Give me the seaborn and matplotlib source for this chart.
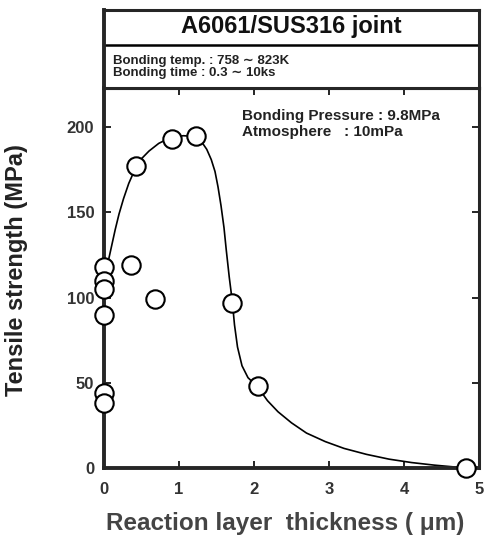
import pandas as pd
import numpy as np
import seaborn as sns
import matplotlib.pyplot as plt

sns.set_style("ticks")
plt.rcParams['font.family'] = ['Liberation Sans', 'DejaVu Sans']

# datos medidos (espesor de capa de reacción, resistencia)
espesor = [0.0, 0.0, 0.0, 0.0, 0.0, 0.0, 0.36, 0.43, 0.68, 0.90, 1.22, 1.71, 2.05, 4.82]
resistencia = [118, 110, 105, 90, 44, 38, 119, 177, 99, 193, 195, 97, 48, 0]

# curva dibujada a mano, leída punto por punto
curva_x = [0.03, 0.06, 0.10, 0.15, 0.20, 0.26, 0.33, 0.42, 0.50, 0.60, 0.73, 0.89,
           1.06, 1.22, 1.30, 1.37, 1.43, 1.48, 1.52, 1.56, 1.60, 1.63, 1.67, 1.71,
           1.74, 1.78, 1.84, 1.92, 2.05, 2.18, 2.32, 2.50, 2.70, 2.95, 3.20, 3.50,
           3.80, 4.10, 4.40, 4.65, 4.82]
curva_y = [118, 122, 130, 140, 149, 158, 167, 176, 181.5, 186, 190.5, 194,
           195, 194.5, 191.5, 187, 181, 174, 165, 154, 141, 128, 112, 98,
           84, 71, 60, 53, 47.5, 39.5, 33, 26.5, 20.5, 15.5, 11.5, 8,
           5.2, 3.2, 1.7, 0.7, 0]

xticks = [0, 1, 2, 3, 4, 5]
yticks = [0, 50, 100, 150, 200]

df_pts = pd.DataFrame({'x': espesor, 'y': resistencia})
df_cur = pd.DataFrame({'x': curva_x, 'y': curva_y})

W, H = 484, 539
fig = plt.figure(figsize=(W / 100, H / 100), dpi=100)
ax = fig.add_axes([104 / W, (H - 468) / H, 375 / W, 380 / H])

sns.lineplot(data=df_cur, x='x', y='y', ax=ax, color='black', lw=1.2,
             sort=False, estimator=None)
sns.scatterplot(data=df_pts, x='x', y='y', ax=ax, s=175, facecolor='white',
                edgecolor='black', linewidth=1.5, zorder=5, clip_on=False)

ax.set_xlim(0, 5)
ax.set_ylim(0, 223)
ax.set_xticks(xticks)
ax.set_yticks(yticks)
ax.tick_params(direction='in', length=5, width=1.2, top=True, right=True,
               labelsize=12, colors='black', labelcolor='#333333')
ax.tick_params(axis='x', pad=10)
ax.tick_params(axis='y', pad=7)
for lbl in ax.get_xticklabels() + ax.get_yticklabels():
    lbl.set_fontweight('bold')
for lado in ['left', 'bottom']:
    ax.spines[lado].set_linewidth(2.8)
for lado in ['right', 'top']:
    ax.spines[lado].set_linewidth(2.2)

ax.set_xlabel('Reaction layer  thickness ( μm)', fontsize=17.5, fontweight='bold',
              color='#444444')
ax.xaxis.set_label_coords(0.483, -0.115)
ax.set_ylabel('Tensile strength (MPa)', fontsize=17, fontweight='bold',
              color='#222222')
ax.yaxis.set_label_coords(-0.203, 0.52)

ax.text(0.368, 0.905, 'Bonding Pressure : 9.8MPa\nAtmosphere   : 10mPa',
        transform=ax.transAxes, fontsize=11, fontweight='bold', va='center',
        ha='left', linespacing=1.15, color='#222222')

# cabecera con título y condiciones
cab = fig.add_axes([104 / W, (H - 88) / H, 375 / W, 78 / H])
cab.set_xticks([])
cab.set_yticks([])
for lado in cab.spines.values():
    lado.set_linewidth(2.2)
cab.spines['left'].set_linewidth(2.8)
cab.axhline(1 - 35 / 78, color='black', lw=1.8)
cab.text(0.5, 1 - 17 / 78, 'A6061/SUS316 joint', transform=cab.transAxes,
         fontsize=17, fontweight='bold', ha='center', va='center', color='#111111')
cab.text(0.025, 1 - 57 / 78, 'Bonding temp. : 758 ∼ 823K\nBonding time : 0.3 ∼ 10ks',
         transform=cab.transAxes, fontsize=9.5, fontweight='bold', ha='left',
         va='center', linespacing=1.1, color='#222222')

plt.savefig('out.png', dpi=100)
